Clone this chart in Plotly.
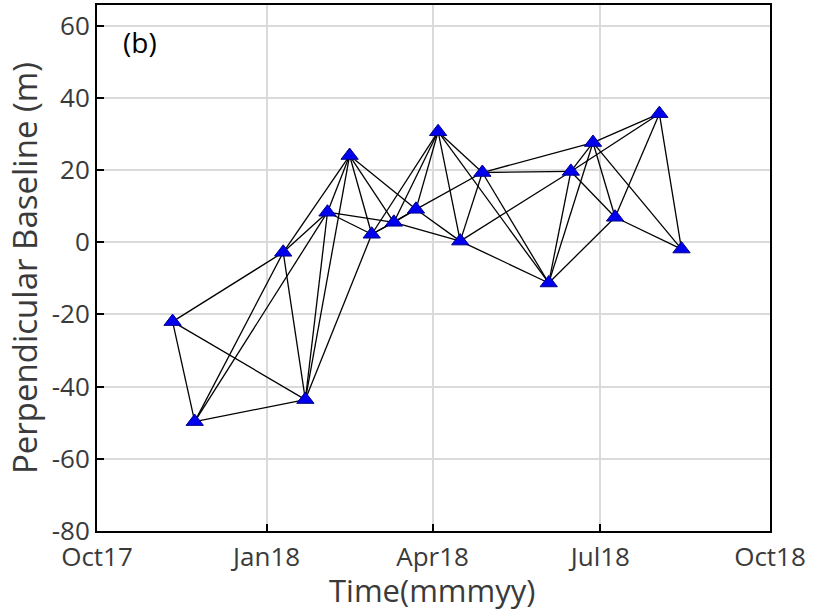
import plotly.graph_objects as go

# Acquisition dates and perpendicular baselines (m)
dates = ["2017-11-11", "2017-11-23", "2018-01-10", "2018-01-22", "2018-02-03",
         "2018-02-15", "2018-02-27", "2018-03-11", "2018-03-23", "2018-04-04",
         "2018-04-16", "2018-04-28", "2018-06-03", "2018-06-15", "2018-06-27",
         "2018-07-09", "2018-08-02", "2018-08-14"]
baselines = [-22.0, -49.7, -2.8, -43.6, 8.3, 24.0, 2.2, 5.5, 9.1, 30.6,
             0.3, 19.3, -11.3, 19.6, 27.6, 6.9, 35.6, -1.9]

# Interferometric pairs (indices into dates)
pairs = [(0, 1), (0, 2), (0, 3), (1, 2), (1, 3), (1, 4), (2, 3), (2, 4), (2, 5),
         (3, 4), (3, 5), (3, 6), (4, 5), (4, 6), (4, 7), (5, 6), (5, 7), (5, 8),
         (6, 7), (6, 8), (6, 9), (7, 8), (7, 9), (7, 10), (8, 9), (8, 10), (8, 11),
         (9, 10), (9, 11), (9, 12), (10, 11), (10, 12), (10, 13), (11, 12), (11, 13),
         (11, 14), (12, 13), (12, 14), (12, 15), (13, 14), (13, 15), (13, 16),
         (14, 15), (14, 16), (14, 17), (15, 16), (15, 17), (16, 17)]

x_ticks = ["2017-10-01", "2018-01-01", "2018-04-01", "2018-07-01", "2018-10-01"]
x_tick_labels = ["Oct17", "Jan18", "Apr18", "Jul18", "Oct18"]
y_ticks = [-80, -60, -40, -20, 0, 20, 40, 60]
y_tick_labels = ["-80", "-60", "-40", "-20", "0", "20", "40", "60"]

ex, ey = [], []
for a, b in pairs:
    ex += [dates[a], dates[b], None]
    ey += [baselines[a], baselines[b], None]

font_family = "Open Sans, DejaVu Sans, sans-serif"
fig = go.Figure()
fig.add_trace(go.Scatter(x=ex, y=ey, mode="lines",
                         line=dict(color="black", width=1.3),
                         hoverinfo="skip", showlegend=False))
fig.add_trace(go.Scatter(x=dates, y=baselines, mode="markers",
                         marker=dict(symbol="triangle-up", size=15, color="#0000ee",
                                     line=dict(color="#00008b", width=1)),
                         showlegend=False))

fig.add_annotation(text="(b)", xref="paper", yref="paper", x=0.035, y=0.93,
                   xanchor="left", yanchor="middle", showarrow=False,
                   font=dict(family=font_family, size=28, color="black"))
# x-axis title placed as annotation to match reference position
fig.add_annotation(text="Time(mmmyy)", xref="paper", yref="paper", x=0.498, y=-0.113,
                   xanchor="center", yanchor="middle", showarrow=False,
                   font=dict(family=font_family, size=31, color="#3a3a3a"))

axis_common = dict(showline=True, linecolor="black", linewidth=2, mirror=True,
                   ticks="inside", ticklen=7, tickwidth=2, tickcolor="black",
                   showgrid=True, gridcolor="#dadada", gridwidth=2,
                   zeroline=False,
                   tickfont=dict(family=font_family, size=26, color="#3a3a3a"))

fig.update_xaxes(type="date", range=["2017-10-01", "2018-10-01"],
                 tickvals=x_ticks, ticktext=x_tick_labels, ticklabelstandoff=2,
                 **axis_common)
fig.update_yaxes(range=[-80, 65.7], tickvals=y_ticks, ticktext=y_tick_labels,
                 title=dict(text="Perpendicular Baseline (m)", standoff=4,
                            font=dict(family=font_family, size=33, color="#3a3a3a")),
                 **axis_common)

fig.update_layout(width=822, height=615, plot_bgcolor="white", paper_bgcolor="white",
                  margin=dict(l=97, r=52, t=3, b=84))

fig.write_html("out.html")
